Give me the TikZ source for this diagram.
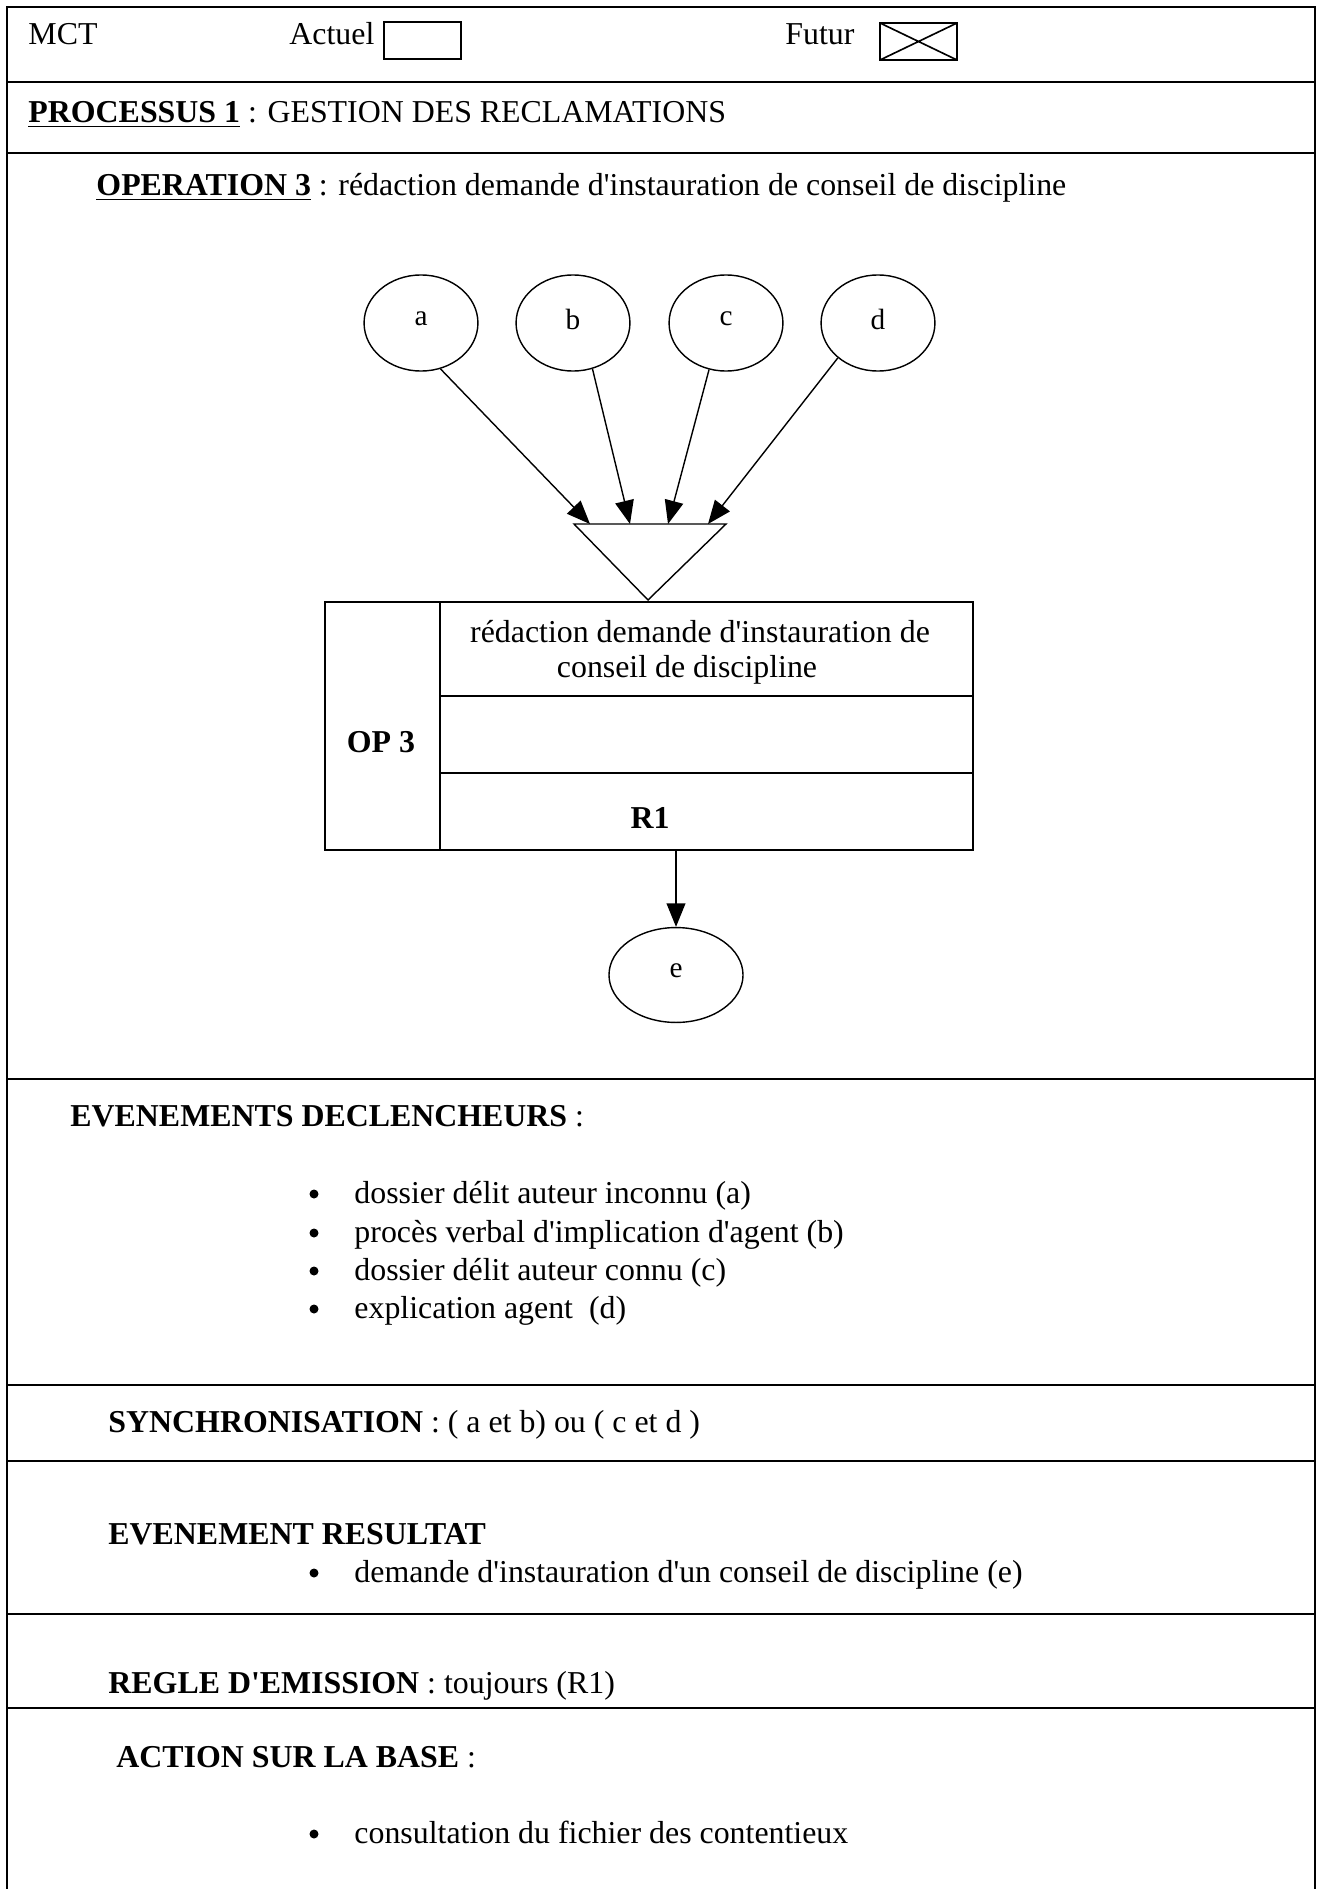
\documentclass[tikz,border=0pt]{standalone}
\usepackage{fontspec}
\setmainfont{Liberation Serif}[Ligatures=TeXOff]
\usetikzlibrary{arrows.meta,shapes.geometric}

\tikzset{
  cadre/.style={line width=0.8pt},
  txt/.style={anchor=base west, inner sep=0pt, font=\fontsize{13.6}{16}\selectfont},
  ctxt/.style={anchor=base, inner sep=0pt, font=\fontsize{13.6}{16}\selectfont},
  evt/.style={draw, ellipse, line width=0.6pt, inner sep=0pt,
    minimum width=48.6pt, minimum height=41pt},
  lettre/.style={anchor=base, inner sep=0pt, yshift=1.7pt, font=\fontsize{12.5}{14}\selectfont},
  flow/.style={-{Triangle[length=10pt,width=8pt]}, line width=0.6pt},
  puce/.style={fill=black},
}

\begin{document}
\begin{tikzpicture}[x=0.015cm, y=-0.015cm]
\useasboundingbox (0,0) rectangle (1320,1889);

\def\xl{7}
\def\xr{1315}
\def\ytop{7}
\def\ybot{1889}

% cadre de la fiche
\draw[cadre] (\xl,\ybot) -- (\xl,\ytop) -- (\xr,\ytop) -- (\xr,\ybot);
\foreach \y in {82,153,1079,1385,1461,1614,1708}
  \draw[cadre] (\xl,\y) -- (\xr,\y);

% en-tete
\node[txt] (mct) at (28,45) {MCT};
\node[txt] (actuel) at (289,45) {Actuel};
\draw[line width=0.7pt] (384,22) rectangle (461,59);
\node[txt] (futur) at (785,45) {Futur};
\draw[line width=0.7pt] (880,23) rectangle (957,60) (880,23) -- (957,60) (880,60) -- (957,23);

\node[txt] (proc) at (28,123) {\textbf{\underline{PROCESSUS 1}} : GESTION DES RECLAMATIONS};
\node[txt] (oper) at (96,196) {\textbf{\underline{OPERATION 3}} : rédaction demande d'instauration de conseil de discipline};

% evenements et synchronisation
\foreach \n/\x in {a/421,b/573,c/726,d/878}
  \node[evt, label={[lettre]center:\n}] (\n) at (\x,323) {};

\coordinate (tl) at (574,524);
\coordinate (tr) at (726,524);
\coordinate (tb) at (648,600);
\draw[line width=0.6pt] (tl) -- (tr) -- (tb) -- cycle;

\coordinate (ta) at (590,524);
\coordinate (tbb) at (630,524);
\coordinate (tc) at (668,524);
\coordinate (td) at (708,524);
\draw[flow] (a.-67) -- (ta);
\draw[flow] (b.-67) -- (tbb);
\draw[flow] (c.-110) -- (tc);
\draw[flow] (d.-139) -- (td);

% operation
\node[draw, line width=0.7pt, minimum width=276.6pt, minimum height=105.8pt, inner sep=0pt] (op) at (649,726) {};
\draw[line width=0.7pt] (440,602) -- (440,850);
\draw[line width=0.7pt] (440,696) -- (973,696);
\draw[line width=0.7pt] (440,773) -- (973,773);

\node[ctxt] (lib1) at (700,642) {rédaction demande d'instauration de};
\node[ctxt] (lib2) at (687,677) {conseil de discipline};
\node[ctxt, font=\fontsize{13.6}{16}\selectfont\bfseries] (opnum) at (381,752) {OP 3};
\node[ctxt, font=\fontsize{13.6}{16}\selectfont\bfseries] (regle) at (650,828) {R1};

\node[evt, minimum width=57.2pt, minimum height=40.5pt, label={[lettre]center:e}] (e) at (676,975) {};
\draw[flow] (op.south -| e) -- (e);

% rubriques
\node[txt] (decl) at (70,1126) {\textbf{EVENEMENTS DECLENCHEURS} :};
\foreach \t/\y [count=\i] in {dossier délit auteur inconnu (a)/1203,
    procès verbal d'implication d'agent (b)/1242,
    dossier délit auteur connu (c)/1280,
    explication agent\ \ (d)/1318}{
  \fill[puce] (314,\y-9) circle [radius=4.5];
  \node[txt] (ed\i) at (354,\y) {\t};
}

\node[txt] (sync) at (108,1432) {\textbf{SYNCHRONISATION} : ( a et b) ou ( c et d )};

\node[txt] (res) at (108,1544) {\textbf{EVENEMENT RESULTAT}};
\fill[puce] (314,1573) circle [radius=4.5];
\node[txt] (er1) at (354,1582) {demande d'instauration d'un conseil de discipline (e)};

\node[txt] (emis) at (108,1693) {\textbf{REGLE D'EMISSION} : toujours (R1)};

\node[txt] (act) at (116,1767) {\textbf{ACTION SUR LA BASE} :};
\fill[puce] (314,1834) circle [radius=4.5];
\node[txt] (ea1) at (354,1843) {consultation du fichier des contentieux};

\end{tikzpicture}
\end{document}
